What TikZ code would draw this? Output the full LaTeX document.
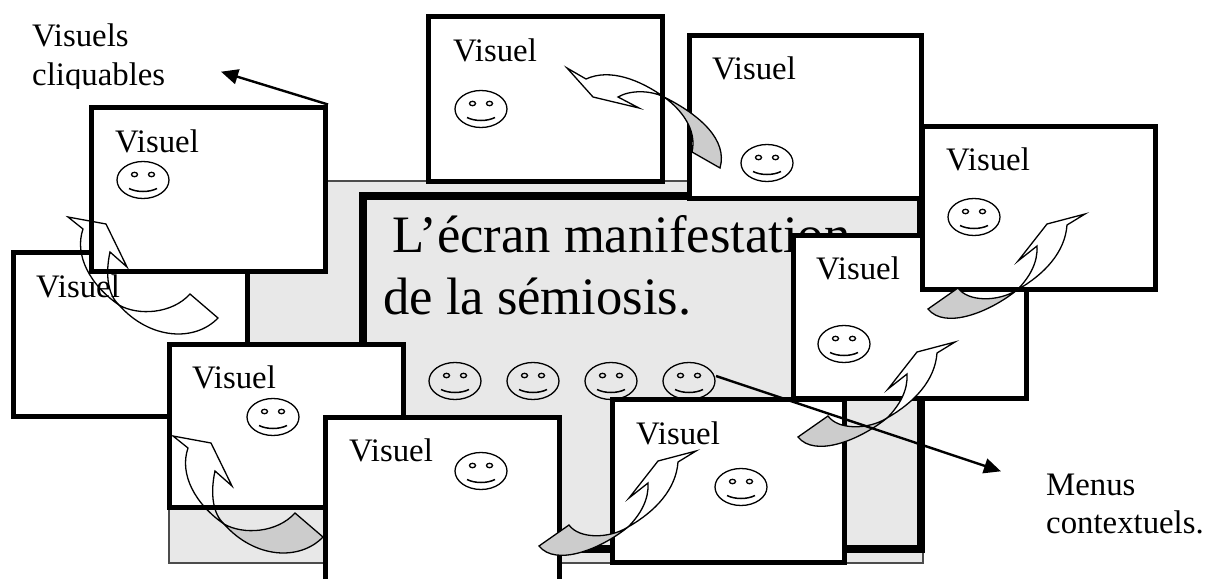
\documentclass[tikz,border=0pt]{standalone}
\usepackage{fontspec}
\setmainfont{Liberation Serif}
\usetikzlibrary{arrows.meta}
\definecolor{screen}{HTML}{E8E8E8}
\definecolor{tail}{HTML}{CCCCCC}
\tikzset{
  win/.style={draw=black,fill=white,line width=5pt,inner sep=0pt,minimum width=#1},
  lab/.style={anchor=base west,inner sep=0pt,font=\fontsize{32.8pt}{36pt}\selectfont},
  big/.style={anchor=base west,inner sep=0pt,font=\fontsize{52.6pt}{60pt}\selectfont},
  link/.style={line width=2.4pt,-{Triangle[length=17pt,width=15pt]},shorten >=-1pt},
  curl/.style={line width=1.3pt,line join=miter},
  smiley/.pic={
    \draw[line width=1.3pt,fill=none] (0,0) ellipse [x radius=26pt,y radius=18.5pt];
    \draw[line width=1.3pt] (-8.5,-5.5) ellipse [x radius=3pt,y radius=2.2pt];
    \draw[line width=1.3pt] (8.5,-5.5) ellipse [x radius=3pt,y radius=2.2pt];
    \draw[line width=1.5pt] (-14,8.5) .. controls (-6,12.5) and (6,12.5) .. (14,8.5);
  }
}
% left-hand curl, drawn relative to its own origin
\newcommand{\leftcurl}[4]{%
  \begin{scope}[shift={(#1,#2)}]
    \draw[curl,fill=#3] (190,294) .. controls (172,314) and (138,316) .. (119,305)
      .. controls (150,340) and (195,342) .. (218,318) -- cycle;
    \draw[curl,#4] (119,305) .. controls (90,285) and (74,255) .. (83,229)
      -- (68,217) -- (106,224) -- (127,267) -- (110,252)
      .. controls (105,275) and (108,295) .. (119,305) -- cycle;
  \end{scope}}
% right-hand curl
\newcommand{\rightcurl}[2]{%
  \begin{scope}[shift={(#1,#2)}]
    \draw[curl,fill=white] (887,418) .. controls (915,402) and (935,380) .. (937,353)
      -- (955,342) -- (917,352) -- (888,389) -- (907,374)
      .. controls (908,390) and (900,405) .. (887,418) -- cycle;
    \draw[curl,fill=tail] (828,416) .. controls (838,430) and (868,430) .. (887,418)
      .. controls (860,440) and (815,458) .. (798,437) -- cycle;
  \end{scope}}
\begin{document}
\begin{tikzpicture}[x=1pt,y=-1pt]
\useasboundingbox (0,0) rectangle (1206,578);
\clip (0,0) rectangle (1206,578);
% screen
\node[draw=black!70,fill=screen,line width=1.2pt,inner sep=0pt,minimum width=754pt,minimum height=382pt] (outer) at (546,372) {};
\node[draw=black,fill=screen,line width=8pt,inner sep=0pt,minimum width=558pt,minimum height=353pt] (inner) at (642,372.5) {};
\node[big] (t1) at (392,252) {L’écran manifestation};
\node[big] (t2) at (383,314) {de la sémiosis.};
\pic at (455,381) {smiley};
\pic at (533,381) {smiley};
\pic at (611,381) {smiley};
\pic at (689,381) {smiley};
% windows
\node[win=234pt,minimum height=164pt] (wL) at (130,334) {};
\node[win=234pt,minimum height=164pt] (wTL) at (208.5,189) {};
\node[win=234pt,minimum height=163pt] (wLL) at (286,425.5) {};
\node[win=234pt,minimum height=165pt] (wTC) at (545,99) {};
\node[win=232pt,minimum height=163pt] (wT2) at (805,117) {};
\node[win=232pt,minimum height=163pt] (wBR) at (728,481) {};
\node[win=233pt,minimum height=163pt] (wRM) at (909.5,316.5) {};
\node[win=233pt,minimum height=163pt] (wR) at (1039,207.5) {};
\node[win=234pt,minimum height=170pt] (wBC) at (442,502) {};
% window contents
\node[lab] (v1) at (36,297) {Visuel};
\node[lab] (v2) at (115,152) {Visuel};
\pic at (143,180) {smiley};
\node[lab] (v3) at (192,388) {Visuel};
\pic at (273,417) {smiley};
\node[lab] (v4) at (349,461) {Visuel};
\pic at (481,471) {smiley};
\node[lab] (v5) at (453,62) {Visuel};
\pic at (481,109) {smiley};
\node[lab] (v6) at (712,79) {Visuel};
\pic at (767,163) {smiley};
\node[lab] (v7) at (946,170) {Visuel};
\pic at (974,217) {smiley};
\node[lab] (v8) at (816,279) {Visuel};
\pic at (844,344) {smiley};
\node[lab] (v9) at (636,444) {Visuel};
\pic at (741,487) {smiley};
% curls
\leftcurl{0}{0}{white}{fill=none}
\leftcurl{105}{219}{tail}{fill=none}
\rightcurl{0}{0}
\rightcurl{130}{-128}
\rightcurl{-259}{109}
% top curl
\draw[curl,fill=white] (664,97) .. controls (640,80) and (610,68) .. (586,79) -- (567,68) -- (593,97) -- (639,108) -- (618,97)
  .. controls (630,90) and (650,90) .. (664,97) -- cycle;
\draw[curl,fill=tail] (664,97) .. controls (700,115) and (728,140) .. (720,168) -- (692,152)
  .. controls (697,130) and (682,110) .. (664,97) -- cycle;
% free labels
\node[lab] (c1) at (32,46) {Visuels};
\begin{scope}
  \clip (0,50) rectangle (220,88);
  \node[lab] (c2) at (32,85) {cliquables};
\end{scope}
\node[lab] (m1) at (1046,495) {Menus};
\node[lab] (m2) at (1046,533) {contextuels.};
% pointers
\coordinate (pA) at (wTL.north east);
\coordinate (pB) at (222,72);
\draw[link] (pA) -- (pB);
\coordinate (pC) at (716,376);
\coordinate (pD) at (1000,471);
\draw[link] (pC) -- (pD);
\end{tikzpicture}
\end{document}
